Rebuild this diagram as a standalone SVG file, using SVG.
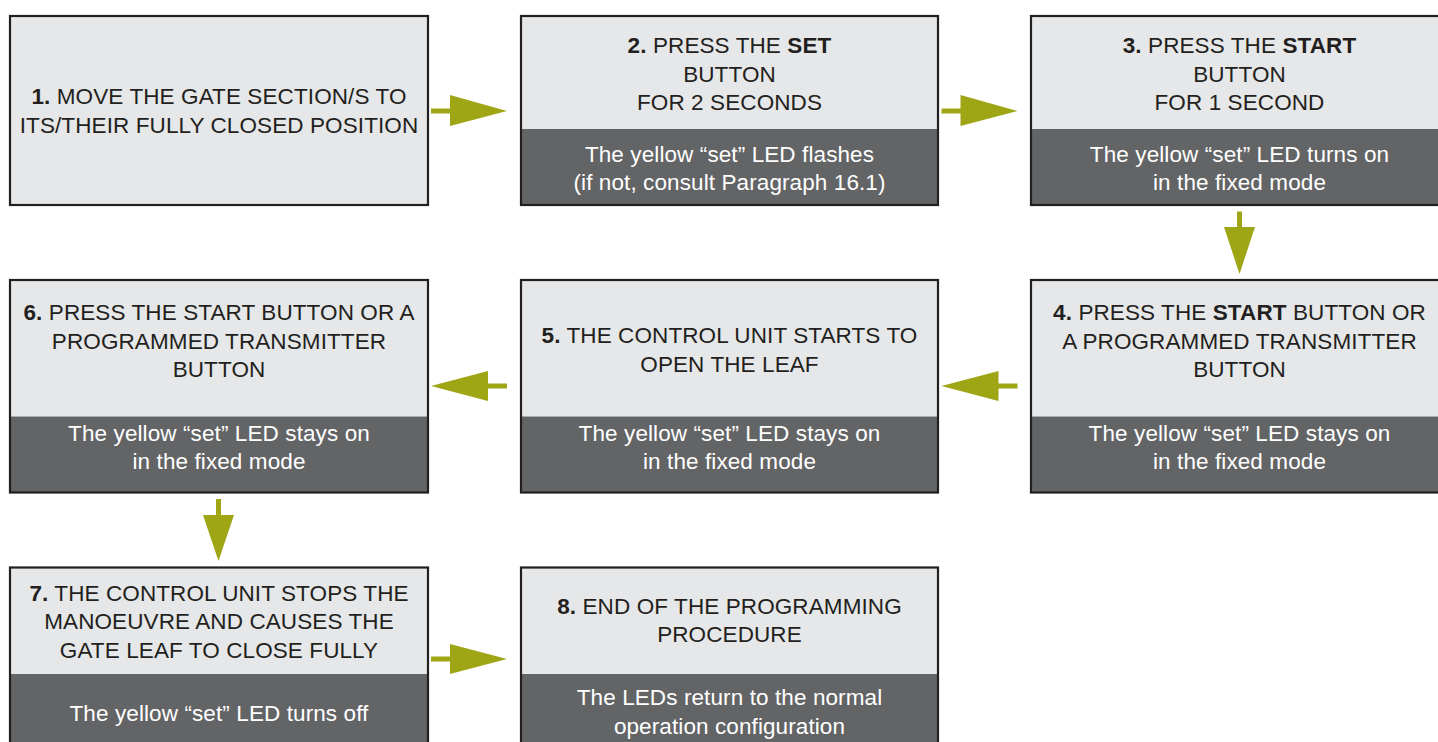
<svg xmlns="http://www.w3.org/2000/svg" width="1438" height="742" viewBox="0 0 1438 742">
<style>
.lt{fill:#e6e7e8}
.dk{fill:#636466}
.bd{fill:none;stroke:#231f20;stroke-width:2.2}
text{font-family:"Liberation Sans",Arial,sans-serif;font-size:22.5px;letter-spacing:0.1px;text-anchor:middle}
.t{fill:#231f20}
.w{fill:#ffffff}
.b{font-weight:bold}
.arr{fill:#9ea616}
</style>
<rect width="1438" height="742" fill="#ffffff"/>
<g id="connectors">
<g id="a1-2" class="arr"><rect x="431" y="108.5" width="20" height="5"/><polygon points="450,95 507,111 450,126"/></g>
<g id="a2-3" class="arr"><rect x="941.5" y="108.5" width="20" height="5"/><polygon points="960.5,95 1017.5,111 960.5,126"/></g>
<g id="a3-4" class="arr"><rect x="1237" y="211.5" width="5" height="16.5"/><polygon points="1224,227 1255,227 1239.5,274"/></g>
<g id="a4-5" class="arr"><rect x="998" y="383.5" width="19.5" height="5"/><polygon points="941.5,386 998.5,371 998.5,401"/></g>
<g id="a5-6" class="arr"><rect x="487.5" y="383.5" width="19.5" height="5"/><polygon points="431,386 488,371 488,401"/></g>
<g id="a6-7" class="arr"><rect x="216" y="499" width="5" height="17"/><polygon points="203,515 234,515 218.5,561"/></g>
<g id="a7-8" class="arr"><rect x="431" y="656.5" width="20" height="5"/><polygon points="450,644 507,659 450,674"/></g>
</g>
<g id="n1">
<rect class="lt" x="10" y="16" width="418" height="189"/>
<rect class="bd" x="10" y="16" width="418" height="189"/>
<text class="t" x="219" y="104"><tspan class="b">1.</tspan> MOVE THE GATE SECTION/S TO</text>
<text class="t" x="219" y="133">ITS/THEIR FULLY CLOSED POSITION</text>
</g>
<g id="n2">
<rect class="lt" x="521" y="16" width="417" height="113"/>
<rect class="dk" x="521" y="129" width="417" height="76"/>
<rect class="bd" x="521" y="16" width="417" height="189"/>
<text class="t" x="729.5" y="53"><tspan class="b">2.</tspan> PRESS THE <tspan class="b">SET</tspan></text>
<text class="t" x="729.5" y="82">BUTTON</text>
<text class="t" x="729.5" y="110">FOR 2 SECONDS</text>
<text class="w" x="729.5" y="161.5">The yellow “set” LED flashes</text>
<text class="w" x="729.5" y="190">(if not, consult Paragraph 16.1)</text>
</g>
<g id="n3">
<rect class="lt" x="1031" y="16" width="418" height="113"/>
<rect class="dk" x="1031" y="129" width="418" height="76"/>
<rect class="bd" x="1031" y="16" width="418" height="189"/>
<text class="t" x="1239.5" y="53"><tspan class="b">3.</tspan> PRESS THE <tspan class="b">START</tspan></text>
<text class="t" x="1239.5" y="82">BUTTON</text>
<text class="t" x="1239.5" y="110">FOR 1 SECOND</text>
<text class="w" x="1239.5" y="161.5">The yellow “set” LED turns on</text>
<text class="w" x="1239.5" y="190">in the fixed mode</text>
</g>
<g id="n4">
<rect class="lt" x="1031" y="280" width="418" height="136.5"/>
<rect class="dk" x="1031" y="416.5" width="418" height="76"/>
<rect class="bd" x="1031" y="280" width="418" height="212.5"/>
<text class="t" x="1239.5" y="320"><tspan class="b">4.</tspan> PRESS THE <tspan class="b">START</tspan> BUTTON OR</text>
<text class="t" x="1239.5" y="348.5">A PROGRAMMED TRANSMITTER</text>
<text class="t" x="1239.5" y="377">BUTTON</text>
<text class="w" x="1239.5" y="440.5">The yellow “set” LED stays on</text>
<text class="w" x="1239.5" y="469">in the fixed mode</text>
</g>
<g id="n5">
<rect class="lt" x="521" y="280" width="417" height="136.5"/>
<rect class="dk" x="521" y="416.5" width="417" height="76"/>
<rect class="bd" x="521" y="280" width="417" height="212.5"/>
<text class="t" x="729.5" y="343"><tspan class="b">5.</tspan> THE CONTROL UNIT STARTS TO</text>
<text class="t" x="729.5" y="371.5">OPEN THE LEAF</text>
<text class="w" x="729.5" y="440.5">The yellow “set” LED stays on</text>
<text class="w" x="729.5" y="469">in the fixed mode</text>
</g>
<g id="n6">
<rect class="lt" x="10" y="280" width="418" height="136.5"/>
<rect class="dk" x="10" y="416.5" width="418" height="76"/>
<rect class="bd" x="10" y="280" width="418" height="212.5"/>
<text class="t" x="219" y="320"><tspan class="b">6.</tspan> PRESS THE START BUTTON OR A</text>
<text class="t" x="219" y="348.5">PROGRAMMED TRANSMITTER</text>
<text class="t" x="219" y="377">BUTTON</text>
<text class="w" x="219" y="440.5">The yellow “set” LED stays on</text>
<text class="w" x="219" y="469">in the fixed mode</text>
</g>
<g id="n7">
<rect class="lt" x="10" y="567.5" width="418" height="106.5"/>
<rect class="dk" x="10" y="674" width="418" height="90"/>
<rect class="bd" x="10" y="567.5" width="418" height="196.5"/>
<text class="t" x="219" y="600.5"><tspan class="b">7.</tspan> THE CONTROL UNIT STOPS THE</text>
<text class="t" x="219" y="629">MANOEUVRE AND CAUSES THE</text>
<text class="t" x="219" y="658">GATE LEAF TO CLOSE FULLY</text>
<text class="w" x="219" y="721">The yellow “set” LED turns off</text>
</g>
<g id="n8">
<rect class="lt" x="521" y="567.5" width="417" height="106.5"/>
<rect class="dk" x="521" y="674" width="417" height="90"/>
<rect class="bd" x="521" y="567.5" width="417" height="196.5"/>
<text class="t" x="729.5" y="613.5"><tspan class="b">8.</tspan> END OF THE PROGRAMMING</text>
<text class="t" x="729.5" y="642">PROCEDURE</text>
<text class="w" x="729.5" y="705">The LEDs return to the normal</text>
<text class="w" x="729.5" y="734">operation configuration</text>
</g>
</svg>
